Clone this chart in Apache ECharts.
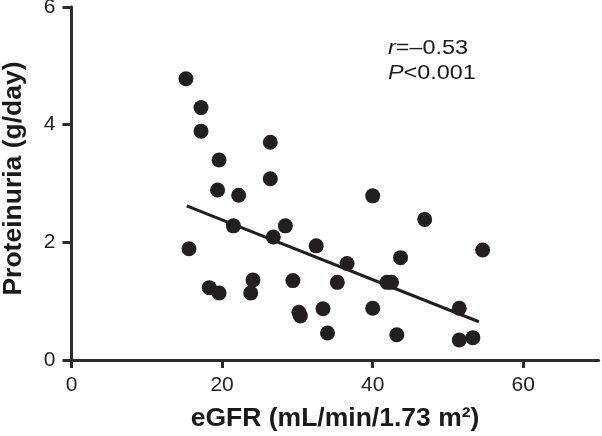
<!DOCTYPE html>
<html><head><meta charset="utf-8">
<script src="https://cdn.jsdelivr.net/npm/echarts@6/dist/echarts.min.js"></script>
<style>html,body{margin:0;padding:0;background:#fff}#c{width:602px;height:436px}</style>
</head><body><div id="c"></div>
<script>
const egfr = [15.2,17.2,17.2,26.4,19.6,26.4,19.4,22.2,21.5,28.4,26.8,32.5,36.6,15.6,18.3,19.6,24.1,23.8,29.4,35.3,30.2,30.4,33.4,34.0,40.0,46.9,54.6,43.7,41.9,42.5,40.0,51.5,43.2,51.5,53.3];
const proteinuria = [4.78,4.29,3.89,3.70,3.40,3.08,2.89,2.80,2.28,2.28,2.09,1.94,1.64,1.89,1.23,1.14,1.36,1.14,1.35,1.32,0.81,0.75,0.87,0.46,2.79,2.39,1.87,1.74,1.32,1.32,0.88,0.88,0.43,0.34,0.38];
const fitX = [15.3, 54.1];
const fitY = [2.62, 0.65];
const xTicks = [0,20,40,60];
const yTicks = [0,2,4,6];
const statR = '–0.53';
const statP = '0.001';

const chart = echarts.init(document.getElementById('c'));
const font = 'Liberation Sans, Arial, sans-serif';
const axisCol = '#2b2b2b';
chart.setOption({
  animation:false,
  grid:{left:71.5,right:3.4,top:7,bottom:76,outerBoundsMode:'none',containLabel:false},
  xAxis:{type:'value',min:0,max:70,interval:20,
    axisLine:{show:true,onZero:false,lineStyle:{color:axisCol,width:3}},
    axisTick:{show:true,length:8,lineStyle:{color:axisCol,width:3},customValues:xTicks},
    axisLabel:{color:'#222',fontSize:21,fontFamily:font,margin:15,customValues:xTicks},
    splitLine:{show:false},
    name:'eGFR (mL/min/1.73 m²)',nameLocation:'middle',nameGap:45,
    nameTextStyle:{fontSize:26.5,fontWeight:'bold',fontFamily:font,color:'#1a1a1a'}},
  yAxis:{type:'value',min:0,max:6,interval:2,
    axisLine:{show:true,onZero:false,lineStyle:{color:axisCol,width:3}},
    axisTick:{show:true,length:9,lineStyle:{color:axisCol,width:3},customValues:yTicks},
    axisLabel:{color:'#222',fontSize:21,fontFamily:font,margin:16,customValues:yTicks},
    splitLine:{show:false},
    name:'Proteinuria (g/day)',nameLocation:'middle',nameGap:44,
    nameTextStyle:{fontSize:26.5,fontWeight:'bold',fontFamily:font,color:'#1a1a1a',padding:[0,0,0,10]}},
  series:[
    {type:'scatter',data:egfr.map((x,i)=>[x,proteinuria[i]]),symbolSize:15,
      itemStyle:{color:'#231f20',opacity:1},z:3},
    {type:'line',data:fitX.map((x,i)=>[x,fitY[i]]),symbol:'none',
      lineStyle:{color:'#231f20',width:3},z:4}
  ],
  graphic:[{type:'text',x:388,y:36,scaleX:1.17,style:{
    text:'{i|r}=' + statR + '\n{i|P}<' + statP,
    rich:{i:{fontStyle:'italic',fontSize:20,fontFamily:font,fill:'#1a1a1a',lineHeight:25}},
    fontSize:20,fontFamily:font,fill:'#1a1a1a',lineHeight:25}}]
});
</script></body></html>
